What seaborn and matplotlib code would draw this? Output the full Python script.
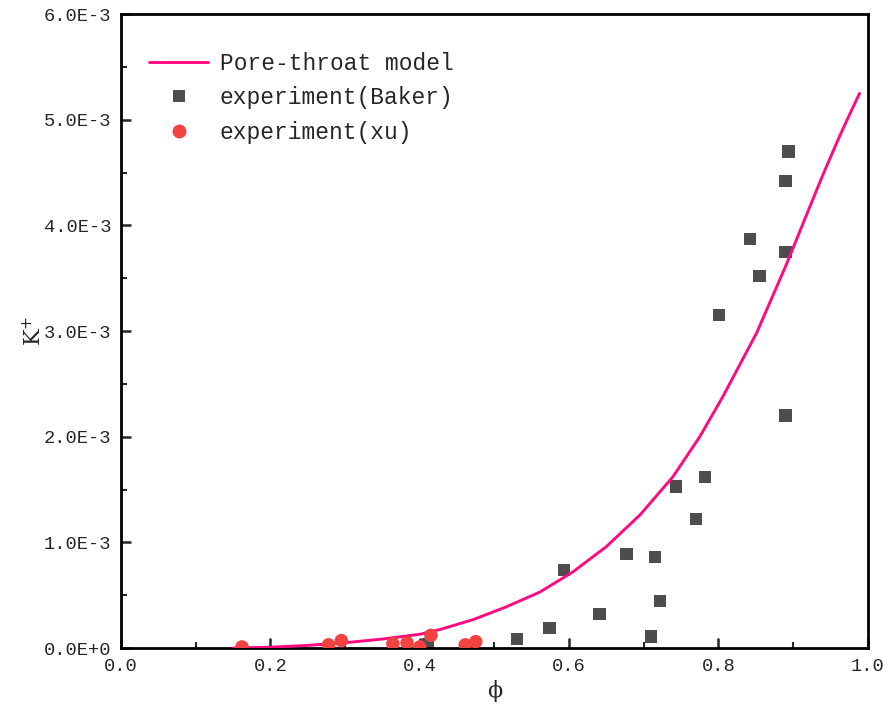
import matplotlib
matplotlib.use("Agg")
import matplotlib.pyplot as plt
import seaborn as sns
import pandas as pd
from matplotlib.ticker import MultipleLocator
from matplotlib.lines import Line2D

# ---- data ----
model_phi = [0.15, 0.20, 0.25, 0.30, 0.35, 0.40, 0.427, 0.472, 0.516, 0.561,
             0.605, 0.650, 0.695, 0.739, 0.775, 0.806, 0.851, 0.891, 0.918,
             0.940, 0.962, 0.975, 0.989]
model_k = [0.0, 0.008e-3, 0.025e-3, 0.05e-3, 0.085e-3, 0.13e-3, 0.175e-3,
           0.27e-3, 0.39e-3, 0.53e-3, 0.72e-3, 0.96e-3, 1.26e-3, 1.62e-3,
           2.00e-3, 2.38e-3, 2.98e-3, 3.63e-3, 4.10e-3, 4.48e-3, 4.84e-3,
           5.04e-3, 5.25e-3]

baker_phi = [0.894, 0.890, 0.842, 0.855, 0.890, 0.801, 0.890, 0.743, 0.782,
             0.770, 0.677, 0.715, 0.593, 0.722, 0.641, 0.574, 0.710, 0.530, 0.411]
baker_k = [4.70e-3, 4.42e-3, 3.87e-3, 3.52e-3, 3.75e-3, 3.15e-3, 2.20e-3,
           1.53e-3, 1.62e-3, 1.22e-3, 0.89e-3, 0.86e-3, 0.74e-3, 0.445e-3,
           0.32e-3, 0.19e-3, 0.11e-3, 0.085e-3, 0.04e-3]

xu_phi = [0.162, 0.278, 0.295, 0.364, 0.383, 0.400, 0.415, 0.461, 0.475]
xu_k = [0.01e-3, 0.03e-3, 0.07e-3, 0.04e-3, 0.05e-3, 0.01e-3, 0.12e-3,
        0.03e-3, 0.06e-3]

x_ticks = [0.0, 0.2, 0.4, 0.6, 0.8, 1.0]
y_ticks = [0.0, 1e-3, 2e-3, 3e-3, 4e-3, 5e-3, 6e-3]
y_tick_labels = ["0.0E+0", "1.0E-3", "2.0E-3", "3.0E-3", "4.0E-3", "5.0E-3", "6.0E-3"]
x_tick_labels = ["0.0", "0.2", "0.4", "0.6", "0.8", "1.0"]

legend_labels = ["Pore-throat model", "experiment(Baker)", "experiment(xu)"]

# ---- style ----
sns.set_style("ticks")
plt.rcParams["font.family"] = ["Liberation Mono", "DejaVu Sans"]

LINE_C = "#FF0A80"
SQ_C = "#4D4D4D"
CIR_C = "#F24341"

fig = plt.figure(figsize=(8.9, 7.09), dpi=100)
ax = fig.add_axes([0.136, 0.086, 0.839, 0.894])

df_model = pd.DataFrame({"phi": model_phi, "k": model_k})
df_baker = pd.DataFrame({"phi": baker_phi, "k": baker_k})
df_xu = pd.DataFrame({"phi": xu_phi, "k": xu_k})

sns.scatterplot(data=df_baker, x="phi", y="k", ax=ax, marker="s", s=80,
                color=SQ_C, edgecolor="none", linewidth=0, zorder=2)
sns.lineplot(data=df_model, x="phi", y="k", ax=ax, color=LINE_C, linewidth=2.1,
             zorder=3, solid_joinstyle="round", solid_capstyle="round")
sns.scatterplot(data=df_xu, x="phi", y="k", ax=ax, marker="o", s=95,
                color=CIR_C, edgecolor="none", linewidth=0, zorder=4)

ax.set_xlim(0.0, 1.0)
ax.set_ylim(0.0, 6e-3)
ax.set_xticks(x_ticks)
ax.set_xticklabels(x_tick_labels)
ax.set_yticks(y_ticks)
ax.set_yticklabels(y_tick_labels)
ax.xaxis.set_minor_locator(MultipleLocator(0.1))
ax.yaxis.set_minor_locator(MultipleLocator(0.5e-3))

ax.tick_params(axis="both", which="major", direction="in", length=7, width=1.8,
               labelsize=13.5, top=False, right=False, pad=7)
ax.tick_params(axis="both", which="minor", direction="in", length=4, width=1.5,
               top=False, right=False)
for sp in ax.spines.values():
    sp.set_linewidth(2.0)
    sp.set_color("black")

ax.set_xlabel("ϕ", fontsize=16, family=["DejaVu Serif"], labelpad=4)
ax.set_ylabel("K$^{+}$", fontsize=16, family=["DejaVu Serif"], labelpad=-2)

handles = [
    Line2D([0], [0], color=LINE_C, linewidth=2.1),
    Line2D([0], [0], marker="s", linestyle="none", color=SQ_C, markersize=9,
           markeredgewidth=0),
    Line2D([0], [0], marker="o", linestyle="none", color=CIR_C, markersize=10,
           markeredgewidth=0),
]
ax.legend(handles, legend_labels, loc="upper left", bbox_to_anchor=(0.025, 0.955),
          frameon=False, fontsize=16.5, handlelength=2.6, handletextpad=0.5,
          labelspacing=0.5, borderaxespad=0)

fig.savefig("out.png", dpi=100)
